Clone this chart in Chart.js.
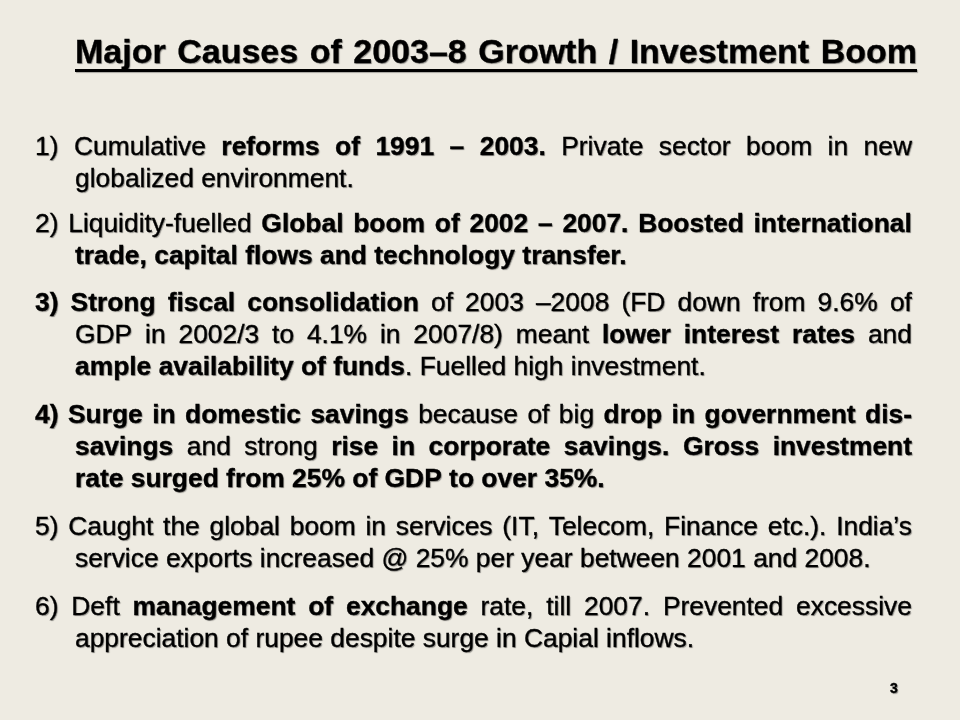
<!DOCTYPE html>
<html>
<head>
<meta charset="utf-8">
<script src="https://cdn.jsdelivr.net/npm/chart.js@4"></script>
<style>
  html, body { margin:0; padding:0; width:960px; height:720px; overflow:hidden; background:#EEEBE2; }
  #bg { position:absolute; left:0; top:0; }
  .line { position:absolute; font-family:"Liberation Sans", Arial, sans-serif; color:#000;
          font-size:26.4px; line-height:32px; height:32px; white-space:nowrap;
          -webkit-text-stroke:0.35px #000;
          text-shadow:1px 1px 1px rgba(0,0,0,0.40); }
  .just { display:flex; justify-content:space-between; align-items:baseline; }
  .title { font-size:34px; font-weight:bold; line-height:40px; height:40px; }
  b { font-weight:bold; }
</style>
</head>
<body>
<canvas id="bg" width="960" height="720"></canvas>
<div id="slide"></div>
<script>
// ---- content ----
const titleText = "Major Causes of 2003–8 Growth / Investment Boom";
const pageNumber = "3";
// each line: [text with **bold** markers, justified?, first line of item?]
const item1 = [
  ["1) Cumulative **reforms of 1991 – 2003.** Private sector boom in new", true, true],
  ["globalized environment.", false, false]
];
const item2 = [
  ["2) Liquidity-fuelled **Global boom of 2002 – 2007. Boosted international**", true, true],
  ["**trade, capital flows and technology transfer.**", false, false]
];
const item3 = [
  ["**3) Strong fiscal consolidation** of 2003 –2008 (FD down from 9.6% of", true, true],
  ["GDP in 2002/3 to 4.1% in 2007/8) meant **lower interest rates** and", true, false],
  ["**ample availability of funds**. Fuelled high investment.", false, false]
];
const item4 = [
  ["**4) Surge in domestic savings** because of big **drop in government dis-**", true, true],
  ["**savings** and strong **rise in corporate savings. Gross investment**", true, false],
  ["**rate surged from 25% of GDP to over 35%.**", false, false]
];
const item5 = [
  ["5) Caught the global boom in services (IT, Telecom, Finance etc.). India’s", true, true],
  ["service exports increased @ 25% per year between 2001 and 2008.", false, false]
];
const item6 = [
  ["6) Deft **management of exchange** rate, till 2007. Prevented excessive", true, true],
  ["appreciation of rupee despite surge in Capial inflows.", false, false]
];
const items = [item1, item2, item3, item4, item5, item6];
const itemBaselines = [155, 232, 311, 423, 535, 615];

// ---- layout ----
const LEFT_NUM = 35, LEFT_TEXT = 75, RIGHT = 912, LINE_H = 32, BASE_OFF = 25;

function tokens(raw) {
  let bold = false;
  const out = [];
  raw.split(/\s+/).filter(s => s.length).forEach(tok => {
    const parts = tok.split("**");
    const segs = [];
    parts.forEach((p, i) => {
      if (i > 0) bold = !bold;
      if (p.length) segs.push({ text: p, bold });
    });
    if (segs.length) out.push(segs);
  });
  return out;
}
function segHTML(segs) {
  return segs.map(s => s.bold ? "<b>" + s.text + "</b>" : s.text).join("");
}

const slide = document.getElementById("slide");
items.forEach((lines, k) => {
  lines.forEach((ln, j) => {
    const [raw, justified, first] = ln;
    const div = document.createElement("div");
    div.className = "line" + (justified ? " just" : "");
    const left = first ? LEFT_NUM : LEFT_TEXT;
    div.style.left = left + "px";
    div.style.top = (itemBaselines[k] + j * LINE_H - BASE_OFF) + "px";
    const toks = tokens(raw);
    if (justified) {
      div.style.width = (RIGHT - left) + "px";
      div.innerHTML = toks.map(t => "<span>" + segHTML(t) + "</span>").join("");
    } else {
      div.innerHTML = toks.map(segHTML).join(" ");
    }
    slide.appendChild(div);
  });
});

// title
const t = document.createElement("div");
t.className = "line just title";
t.style.left = "75px"; t.style.width = "842px"; t.style.top = (63 - 32) + "px";
t.innerHTML = titleText.split(" ").map(w => "<span>" + w + "</span>").join("");
slide.appendChild(t);
const ul = document.createElement("div");
ul.style.cssText = "position:absolute;left:75px;top:69px;width:842px;height:3px;background:#000;box-shadow:1px 1px 1px rgba(0,0,0,0.3);";
slide.appendChild(ul);

// page number
const pn = document.createElement("div");
pn.className = "line";
pn.style.cssText += "font-size:14px;font-weight:bold;line-height:18px;height:18px;left:890px;top:" + (693 - 14) + "px;";
pn.textContent = pageNumber;
slide.appendChild(pn);

// ---- Chart.js background canvas ----
const bgPlugin = {
  id: "slideBg",
  beforeDraw(chart) {
    const c = chart.ctx;
    c.save();
    c.fillStyle = "#EEEBE2";
    c.fillRect(0, 0, chart.width, chart.height);
    c.restore();
  }
};
new Chart(document.getElementById("bg"), {
  type: "bar",
  data: { labels: [], datasets: [] },
  options: {
    responsive: false, animation: false,
    plugins: { legend: { display: false }, tooltip: { enabled: false } },
    scales: { x: { display: false }, y: { display: false } }
  },
  plugins: [bgPlugin]
});
</script>
</body>
</html>
